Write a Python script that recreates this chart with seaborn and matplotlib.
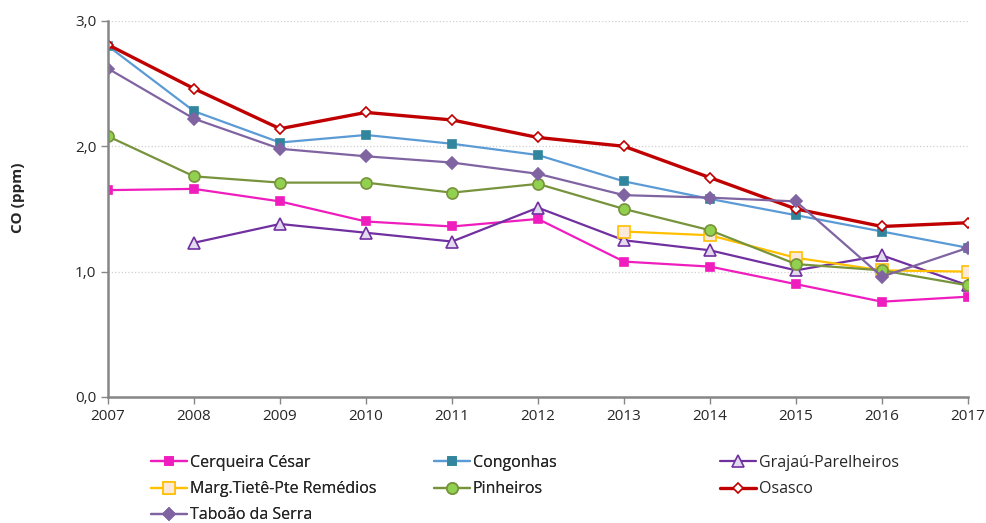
import seaborn as sns
import matplotlib.pyplot as plt
import numpy as np
import pandas as pd

years = list(range(2007, 2018))

cerqueira = [1.65, 1.66, 1.56, 1.40, 1.36, 1.42, 1.08, 1.04, 0.90, 0.76, 0.80]
congonhas = [2.80, 2.28, 2.03, 2.09, 2.02, 1.93, 1.72, 1.58, 1.45, 1.32, 1.19]
grajau = [np.nan, 1.23, 1.38, 1.31, 1.24, 1.51, 1.25, 1.17, 1.01, 1.13, 0.89]
marg_tiete = [np.nan, np.nan, np.nan, np.nan, np.nan, np.nan, 1.32, 1.29, 1.11, 1.01, 1.00]
pinheiros = [2.08, 1.76, 1.71, 1.71, 1.63, 1.70, 1.50, 1.33, 1.06, 1.01, 0.89]
osasco = [2.81, 2.46, 2.14, 2.27, 2.21, 2.07, 2.00, 1.75, 1.50, 1.36, 1.39]
taboao = [2.62, 2.22, 1.98, 1.92, 1.87, 1.78, 1.61, 1.59, 1.56, 0.96, 1.19]

station_names = ['Cerqueira César', 'Congonhas', 'Grajaú-Parelheiros',
                 'Marg.Tietê-Pte Remédios', 'Pinheiros', 'Osasco', 'Taboão da Serra']
series = [cerqueira, congonhas, grajau, marg_tiete, pinheiros, osasco, taboao]

# line color, marker, marker face, marker edge, line width, marker size
styles = [
    ('#F01DBE', 's', '#F01DBE', '#F01DBE', 1.6, 6),
    ('#5B9BD5', 's', '#31859C', '#31859C', 1.6, 6),
    ('#7030A0', '^', '#E2DAEE', '#7030A0', 1.6, 8),
    ('#FFC000', 's', '#FDE9D9', '#FFC000', 1.6, 8),
    ('#77933C', 'o', '#92D050', '#77933C', 1.6, 8),
    ('#C00000', 'D', 'white', '#C00000', 2.4, 5),
    ('#8064A2', 'D', '#8064A2', '#8064A2', 1.6, 6.5),
]

df = pd.concat([pd.DataFrame({'ano': years, 'co': vals, 'estacao': name})
                for name, vals in zip(station_names, series)])

sns.set_style('white')
plt.rcParams['font.family'] = ['Open Sans', 'DejaVu Sans']

fig, ax = plt.subplots(figsize=(9.86, 5.23), dpi=100)
fig.subplots_adjust(left=0.1095, right=0.9817, top=0.96, bottom=0.241)

for name, (lc, mk, mf, me, lw, ms) in zip(station_names, styles):
    sub = df[df['estacao'] == name].dropna()
    sns.lineplot(data=sub, x='ano', y='co', ax=ax, color=lc, linewidth=lw,
                 marker=mk, markersize=ms, markerfacecolor=mf,
                 markeredgecolor=me, markeredgewidth=1.2, label=name)

ax.set_xlim(2007, 2017)
ax.set_ylim(0, 3.0)
ax.set_xticks(years)
ax.set_xticklabels([str(y) for y in years], fontsize=11)
ax.set_yticks([0, 1, 2, 3])
ax.set_yticklabels(['0,0', '1,0', '2,0', '3,0'], fontsize=11)
ax.set_xlabel('')
ax.set_ylabel('CO (ppm)', fontsize=11, fontweight='bold')
ax.yaxis.set_label_coords(-0.097, 0.53)

ax.yaxis.grid(True, color='#D0D0D0', linestyle=':', linewidth=0.9)
ax.set_axisbelow(True)
for side in ['top', 'right']:
    ax.spines[side].set_visible(False)
for side in ['left', 'bottom']:
    ax.spines[side].set_color('#868686')
    ax.spines[side].set_linewidth(1.8)
ax.tick_params(axis='both', direction='out', length=5, width=1, color='#868686',
               bottom=True, left=True)

# legend: three columns of equal width, filled row by row
handles, labels = ax.get_legend_handles_labels()
ax.get_legend().remove()
col_x = [0.153, 0.440, 0.730]
for c in range(3):
    idx = list(range(c, len(handles), 3))
    leg = fig.legend([handles[i] for i in idx], [labels[i] for i in idx],
                     loc='upper left', bbox_to_anchor=(col_x[c], 0.130),
                     frameon=False, fontsize=11.5, handlelength=2.25,
                     handletextpad=0.2, labelspacing=0.64, borderaxespad=0,
                     borderpad=0)
    if c < 2:
        fig.add_artist(leg)

fig.savefig('out.png', dpi=100)
